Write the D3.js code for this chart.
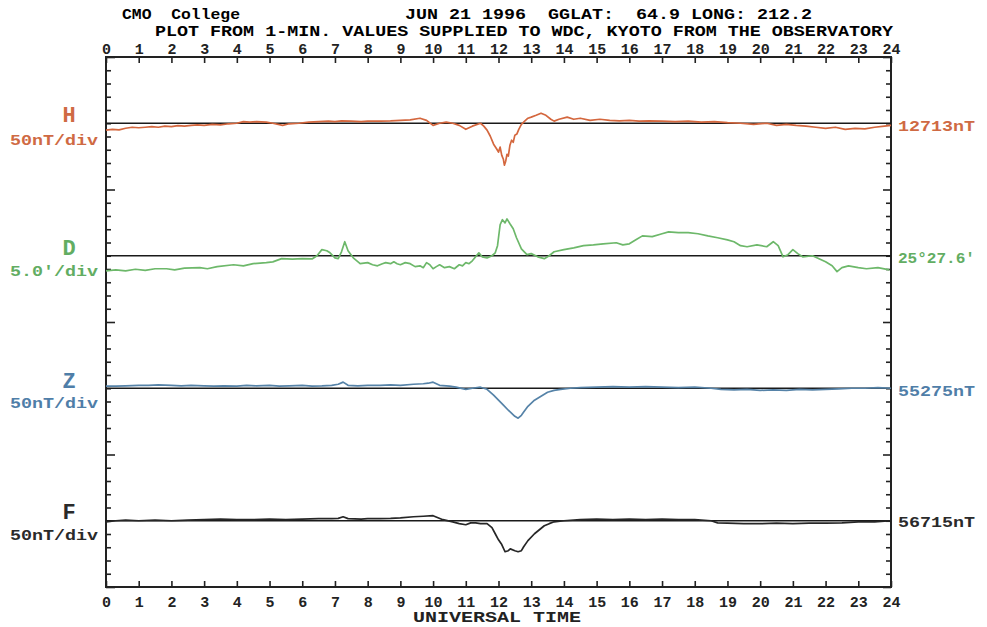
<!DOCTYPE html>
<html>
<head>
<meta charset="utf-8">
<script src="https://cdn.jsdelivr.net/npm/d3@7"></script>
<style>
  html, body { margin: 0; padding: 0; background: #fff; }
  svg text { font-family: "Liberation Mono", "DejaVu Sans Mono", monospace; font-weight: bold; }
</style>
</head>
<body>
<svg id="chart" width="987" height="627"></svg>
<script>
// hours of the day on the x axis
const hours = d3.range(0, 25);

// H component, deviation from 12713 nT
const hTime = [0.0,0.2,0.4,0.6,0.8,1.0,1.2,1.4,1.6,1.8,2.0,2.2,2.4,2.6,2.8,3.0,3.25,3.5,3.75,4.0,4.2,4.4,4.6,4.9,5.1,5.4,5.6,5.9,6.2,6.5,6.8,7.0,7.2,7.5,7.8,8.0,8.4,8.7,9.0,9.3,9.6,9.8,10.0,10.2,10.4,10.6,10.8,11.0,11.2,11.45,11.55,11.65,11.75,11.85,11.95,12.0,12.05,12.1,12.15,12.18,12.22,12.26,12.3,12.35,12.4,12.45,12.5,12.56,12.62,12.7,12.8,12.9,13.0,13.15,13.3,13.45,13.6,13.7,13.85,14.1,14.3,14.5,14.8,15.1,15.4,15.7,16.0,16.3,16.6,17.0,17.4,17.8,18.2,18.6,19.0,19.4,19.8,20.2,20.5,20.8,21.1,21.4,21.7,22.0,22.3,22.6,22.9,23.2,23.5,23.8,24.0];
const hVal  = [-26,-23,-25,-19,-15,-17,-15,-13,-15,-11,-13,-9,-11,-8,-6,-8,-4,-6,-2,0,6,4,6,4,0,-8,-2,0,4,6,8,6,9,8,6,8,8,9,11,13,19,11,-8,0,4,0,-8,-23,-11,0,-11,-26,-49,-79,-98,-109,-90,-121,-136,-158,-143,-117,-124,-83,-64,-72,-45,-41,-23,-4,8,19,23,30,38,30,15,8,15,23,15,19,11,15,11,9,11,8,9,8,6,8,4,6,2,0,-4,0,-8,-4,-8,-11,-15,-19,-15,-23,-19,-21,-15,-11,-8];

// D component, deviation from 25°27.6' in arc minutes
const dTime = [0.0,0.3,0.6,0.9,1.2,1.5,1.85,2.1,2.4,2.87,3.1,3.4,3.9,4.2,4.5,4.9,5.1,5.37,5.7,6.0,6.3,6.45,6.6,6.75,6.85,7.0,7.1,7.2,7.3,7.4,7.56,7.77,8.0,8.15,8.3,8.45,8.55,8.7,8.8,8.9,9.0,9.15,9.3,9.45,9.6,9.7,9.8,9.9,10.0,10.1,10.2,10.35,10.5,10.65,10.8,10.9,11.0,11.1,11.2,11.4,11.5,11.65,11.8,11.9,11.97,12.0,12.05,12.12,12.2,12.26,12.35,12.45,12.55,12.7,12.87,13.0,13.2,13.4,13.55,13.7,14.0,14.3,14.6,14.9,15.2,15.6,15.8,16.0,16.2,16.4,16.7,17.0,17.2,17.5,17.8,18.1,18.4,18.7,19.0,19.2,19.4,19.6,19.9,20.2,20.4,20.55,20.7,20.85,21.0,21.15,21.3,21.6,21.8,22.0,22.2,22.35,22.5,22.7,23.0,23.25,23.6,23.95];
const dVal  = [-5.7,-5.3,-5.7,-5.1,-5.5,-4.9,-4.9,-5.3,-4.7,-4.5,-4.9,-4.1,-3.4,-3.8,-3.0,-2.6,-2.3,-1.1,-1.3,-1.1,-1.2,0,2.3,1.9,1.1,-0.8,-1.1,1.5,5.3,1.9,-0.8,-3.0,-2.6,-3.4,-3.8,-3.0,-2.6,-3.0,-2.3,-3.0,-3.4,-2.6,-3.0,-4.1,-3.8,-4.5,-2.6,-3.4,-4.9,-4.1,-3.4,-4.5,-4.1,-4.9,-3.4,-3.8,-2.6,-3.0,-1.9,1.1,-0.4,-0.8,0,1.1,3.8,6.8,11.7,13.6,12.4,13.9,12.1,10.2,6.8,2.6,0.4,0.8,-0.4,-1.1,0,1.5,2.3,3.0,3.8,4.1,4.5,4.9,4.1,4.5,6.0,7.5,7.2,8.3,9.0,8.7,8.7,8.3,7.5,6.8,6.0,5.3,3.8,3.4,4.1,3.4,5.3,3.8,-0.4,0.4,2.3,0.8,-0.4,0,-1.1,-2.3,-3.8,-6.0,-4.5,-3.8,-4.5,-4.9,-4.5,-5.3];

// Z component, deviation from 55275 nT
const zTime = [0.0,0.3,0.6,1.0,1.3,1.6,2.0,2.3,2.6,3.0,3.3,3.6,4.0,4.3,4.6,5.0,5.3,5.6,6.0,6.3,6.6,6.9,7.1,7.25,7.4,7.7,8.0,8.38,8.7,9.0,9.4,9.7,9.85,10.0,10.2,10.5,10.7,11.0,11.2,11.45,11.65,11.85,12.0,12.15,12.3,12.5,12.6,12.7,12.77,12.9,13.1,13.3,13.5,13.7,13.9,14.2,14.5,15.0,15.5,16.0,16.5,17.0,17.5,18.0,18.5,18.8,19.2,19.6,20.0,20.4,20.8,21.2,21.6,22.0,22.4,22.8,23.2,23.6,24.0];
const zVal  = [8,8,9,11,11,13,11,9,11,9,8,9,8,11,9,11,8,9,11,8,9,11,15,23,11,9,11,11,13,11,15,17,19,23,11,8,4,-4,0,4,-4,-26,-45,-64,-83,-106,-113,-102,-90,-68,-45,-30,-15,-8,-4,0,2,4,6,4,6,4,2,4,0,-4,-6,-4,-8,-6,-8,-4,-6,-4,-2,0,0,2,0];

// F total field, deviation from 56715 nT
const fTime = [0.0,0.3,0.6,1.0,1.5,2.0,2.5,3.0,3.5,4.0,4.5,5.0,5.5,6.0,6.5,6.9,7.1,7.25,7.4,7.8,8.0,8.38,8.7,9.0,9.4,9.7,10.0,10.3,10.6,10.8,11.0,11.15,11.3,11.45,11.65,11.8,11.9,12.0,12.1,12.2,12.3,12.36,12.5,12.6,12.7,12.77,12.9,13.1,13.25,13.4,13.55,13.7,14.0,14.5,15.0,15.5,16.0,16.5,17.0,17.5,18.0,18.5,18.7,19.0,19.5,20.0,20.5,21.0,21.5,22.0,22.5,23.0,23.5,24.0];
const fVal  = [-4,0,2,0,2,0,2,4,6,4,4,6,4,6,8,8,9,15,8,6,8,8,9,11,15,17,19,4,-4,-11,-15,-8,-8,-11,-11,-26,-49,-72,-90,-117,-113,-106,-113,-117,-113,-98,-75,-49,-34,-19,-11,-4,0,4,6,4,6,4,6,4,4,0,-8,-9,-11,-11,-9,-11,-9,-9,-8,-4,-4,0];

const panels = [
  { key: 'H', t: hTime, v: hVal, unit: 50, scaleLabel: '50nT/div', baseLabel: '12713nT', color: '#d4673e', textColor: '#cf6a43' },
  { key: 'D', t: dTime, v: dVal, unit: 5, scaleLabel: "5.0'/div", baseLabel: "25\u00B027.6'", color: '#6db86a', textColor: '#62ad62' },
  { key: 'Z', t: zTime, v: zVal, unit: 50, scaleLabel: '50nT/div', baseLabel: '55275nT', color: '#5683a8', textColor: '#4f7ea8' },
  { key: 'F', t: fTime, v: fVal, unit: 50, scaleLabel: '50nT/div', baseLabel: '56715nT', color: '#262626', textColor: '#2a2a2a' }
];

const svg = d3.select('#chart');
const plotL = 106, plotR = 891, plotT = 57, plotB = 587;
const nDiv = 40;
const divPx = (plotB - plotT) / nDiv;

const x = d3.scaleLinear().domain([0, 24]).range([plotL, plotR]);
const yDiv = d3.scaleLinear().domain([0, nDiv]).range([plotT, plotB]);

// header
svg.append('text').attr('x', 122).attr('y', 19).attr('font-size', 14)
  .attr('textLength', 118).attr('lengthAdjust', 'spacingAndGlyphs')
  .attr('xml:space', 'preserve').text('CMO  College');
svg.append('text').attr('x', 405).attr('y', 19).attr('font-size', 14)
  .attr('textLength', 407).attr('lengthAdjust', 'spacingAndGlyphs')
  .attr('xml:space', 'preserve').text('JUN 21 1996  GGLAT:  64.9 LONG: 212.2');
svg.append('text').attr('x', 155).attr('y', 36).attr('font-size', 14)
  .attr('textLength', 738).attr('lengthAdjust', 'spacingAndGlyphs')
  .text('PLOT FROM 1-MIN. VALUES SUPPLIED TO WDC, KYOTO FROM THE OBSERVATORY');

// frame
svg.append('rect').attr('x', plotL).attr('y', plotT)
  .attr('width', plotR - plotL).attr('height', plotB - plotT)
  .attr('fill', 'none').attr('stroke', '#222').attr('stroke-width', 2);

// hour axes
const topAxis = d3.axisTop(x).tickValues(hours).tickSize(-6).tickSizeOuter(0).tickPadding(3).tickFormat(d3.format('d'));
const botAxis = d3.axisBottom(x).tickValues(hours).tickSize(-6).tickSizeOuter(0).tickPadding(9).tickFormat(d3.format('d'));
const gTop = svg.append('g').attr('transform', `translate(0,${plotT})`).call(topAxis);
const gBot = svg.append('g').attr('transform', `translate(0,${plotB})`).call(botAxis);
[gTop, gBot].forEach(g => {
  g.select('.domain').remove();
  g.selectAll('line').attr('stroke', '#222').attr('stroke-width', 1.6);
  g.selectAll('text').attr('font-size', 15).attr('fill', '#222')
    .style('font-family', '"Liberation Mono", monospace').style('font-weight', 'bold');
});

// division ticks left and right
const divTicks = d3.range(0, nDiv + 1);
const gLeft = svg.append('g').attr('transform', `translate(${plotL},0)`)
  .call(d3.axisLeft(yDiv).tickValues(divTicks).tickSize(-5).tickSizeOuter(0).tickFormat(''));
const gRight = svg.append('g').attr('transform', `translate(${plotR},0)`)
  .call(d3.axisRight(yDiv).tickValues(divTicks).tickSize(-5).tickSizeOuter(0).tickFormat(''));
gLeft.selectAll('.tick line').attr('x2', d => d % 10 === 0 ? 9 : 5);
gRight.selectAll('.tick line').attr('x2', d => d % 10 === 0 ? -8 : -5);
[gLeft, gRight].forEach(g => {
  g.select('.domain').remove();
  g.selectAll('line').attr('stroke', '#222').attr('stroke-width', 1.6);
});

// panels
const leftLetterY = [122, 255, 388, 519];
const leftScaleY = [145, 276, 408, 540];
const rightLabelY = [131, 263, 396, 527];

panels.forEach((p, i) => {
  const base = yDiv(5 + 10 * i);
  const y = d3.scaleLinear().domain([-5 * p.unit, 5 * p.unit]).range([base + 5 * divPx, base - 5 * divPx]);

  svg.append('line').attr('x1', plotL).attr('x2', plotR)
    .attr('y1', y(0)).attr('y2', y(0))
    .attr('stroke', '#1a1a1a').attr('stroke-width', 1.6);

  const line = d3.line().x((d, k) => x(p.t[k])).y(d => y(d));
  svg.append('path').datum(p.v)
    .attr('d', line)
    .attr('fill', 'none')
    .attr('stroke', p.color)
    .attr('stroke-width', 1.7)
    .attr('stroke-linejoin', 'round');

  svg.append('text').attr('x', 69).attr('y', leftLetterY[i])
    .attr('text-anchor', 'middle').attr('font-size', 22)
    .attr('fill', p.textColor).text(p.key);
  svg.append('text').attr('x', 10).attr('y', leftScaleY[i])
    .attr('font-size', 14).attr('textLength', 88).attr('lengthAdjust', 'spacingAndGlyphs')
    .attr('fill', p.textColor).text(p.scaleLabel);
  svg.append('text').attr('x', 898).attr('y', rightLabelY[i])
    .attr('font-size', 14).attr('textLength', 77).attr('lengthAdjust', 'spacingAndGlyphs')
    .attr('fill', p.textColor).text(p.baseLabel);
});

svg.append('text').attr('x', 497).attr('y', 622).attr('text-anchor', 'middle')
  .attr('font-size', 14).attr('textLength', 168).attr('lengthAdjust', 'spacingAndGlyphs')
  .attr('fill', '#222').text('UNIVERSAL TIME');
</script>
</body>
</html>
